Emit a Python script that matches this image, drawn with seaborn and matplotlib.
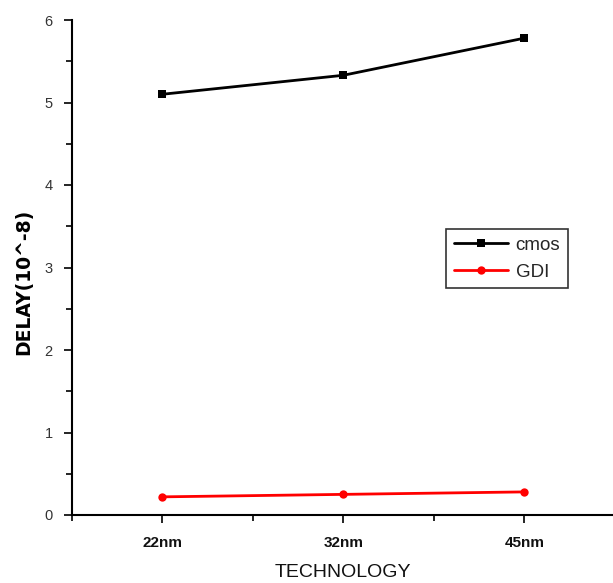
import matplotlib
matplotlib.use("Agg")
import matplotlib.pyplot as plt
import seaborn as sns
import pandas as pd
from matplotlib.ticker import MultipleLocator, FixedLocator

categories = ["22nm", "32nm", "45nm"]
cmos = [5.10, 5.33, 5.78]
gdi = [0.22, 0.25, 0.28]
series_names = ["cmos", "GDI"]
y_ticks = [0, 1, 2, 3, 4, 5, 6]

sns.set_theme(style="white")
plt.rcParams['font.family'] = ['Liberation Sans', 'DejaVu Sans']

df = pd.DataFrame({
    "tech": categories * 2,
    "pos": list(range(len(categories))) * 2,
    "delay": cmos + gdi,
    "series": [series_names[0]] * 3 + [series_names[1]] * 3,
})

fig = plt.figure(figsize=(6.13, 5.83), dpi=100)
ax = fig.add_axes([72/613, 1 - 515/583, 1 - 72/613, (515 - 20)/583])

sns.lineplot(data=df, x="pos", y="delay", hue="series", style="series",
             palette={"cmos": "black", "GDI": "red"},
             markers={"cmos": "s", "GDI": "o"}, dashes=False,
             markersize=6, markeredgewidth=0, linewidth=2, ax=ax, legend=True)

ax.set_xlim(-0.5, 2.49)
ax.set_ylim(0, 6)
ax.xaxis.set_major_locator(FixedLocator(range(len(categories))))
ax.set_xticklabels(categories)
ax.xaxis.set_minor_locator(FixedLocator([-0.5, 0.5, 1.5]))
ax.yaxis.set_major_locator(FixedLocator(y_ticks))
ax.yaxis.set_minor_locator(MultipleLocator(0.5))

for s in ["top", "right"]:
    ax.spines[s].set_visible(False)
for s in ["left", "bottom"]:
    ax.spines[s].set_color("black")
    ax.spines[s].set_linewidth(1.5)

ax.tick_params(axis="both", which="major", direction="out", length=6, width=1.2,
               colors="black", left=True, bottom=True)
ax.tick_params(axis="both", which="minor", direction="out", length=4, width=1.2,
               colors="black", left=True, bottom=True)
ax.tick_params(axis="x", labelsize=11, pad=9)
ax.tick_params(axis="y", labelsize=10.5, pad=8)
for lbl in ax.get_xticklabels():
    lbl.set_fontweight("bold")
    lbl.set_color("#111111")
for lbl in ax.get_yticklabels():
    lbl.set_color("#333333")

ax.set_xlabel("TECHNOLOGY", fontsize=14, color="#111111", labelpad=10)
ax.set_ylabel("DELAY(10^-8)", fontsize=13.5, fontweight="bold", color="black",
              family=['DejaVu Sans'])
ax.yaxis.set_label_coords(-0.072, 0.47)

leg = ax.legend(loc="upper left", bbox_to_anchor=(0.692, 0.578), frameon=True,
                fancybox=False, edgecolor="black", fontsize=13.5, handlelength=2.9,
                borderpad=0.4, labelspacing=0.55, handletextpad=0.4,
                borderaxespad=0)
leg.get_frame().set_linewidth(1.2)
leg.set_title(None)

fig.savefig("out.png", dpi=100)
